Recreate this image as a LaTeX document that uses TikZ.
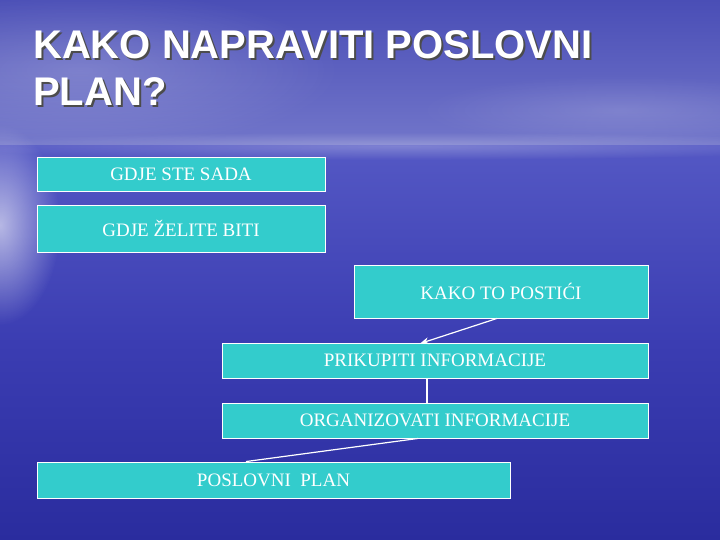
\documentclass[tikz,border=0pt]{standalone}
\usepackage{fontspec}
\setmainfont{Liberation Serif}
\newfontfamily\titlefont{Liberation Sans}
\usetikzlibrary{fadings,arrows.meta}
\definecolor{boxfill}{HTML}{33CCCC}
\definecolor{skytop}{HTML}{4A4EB6}
\definecolor{skyhor}{HTML}{7276CA}
\definecolor{seatop}{HTML}{5458C4}
\definecolor{seamid}{HTML}{3B3DB2}
\definecolor{seabot}{HTML}{2A2C9E}
\tikzfading[name=glow, inner color=transparent!0, outer color=transparent!100]
\tikzset{
  stepbox/.style={rectangle, draw=white, line width=0.9pt, fill=boxfill, text=white,
    font=\fontsize{19}{23}\selectfont, inner sep=0pt},
  titletext/.style={anchor=base west, inner sep=0pt, font=\titlefont\bfseries\fontsize{40}{46}\selectfont},
  conn/.style={draw=white, line width=1.2pt}
}
\begin{document}
\begin{tikzpicture}[x=1pt,y=-1pt]
\useasboundingbox (0,0) rectangle (720,540);
% background sky
\shade[top color=skytop, bottom color=skyhor] (0,0) rectangle (720,146);
% sea
\shade[top color=seatop, bottom color=seabot, middle color=seamid] (0,146) rectangle (720,540);
% horizon glow
\fill[white, opacity=0.25, path fading=glow] (400,146) ellipse (460pt and 14pt);
% left glow
\fill[white, opacity=0.6, path fading=glow] (0,225) ellipse (60pt and 100pt);
\fill[white, opacity=0.2, path fading=glow] (80,70) ellipse (260pt and 80pt);
\fill[white, opacity=0.15, path fading=glow] (620,110) ellipse (200pt and 35pt);
% title
\node[titletext, text=black!70] (t1s) at (35,61) {KAKO NAPRAVITI POSLOVNI};
\node[titletext, text=black!70] (t2s) at (35,108) {PLAN?};
\node[titletext, text=white] (t1) at (33,59) {KAKO NAPRAVITI POSLOVNI};
\node[titletext, text=white] (t2) at (33,106) {PLAN?};
% boxes
\node[stepbox, minimum width=288pt, minimum height=34pt] (b1) at (181,174) {GDJE STE SADA};
\node[stepbox, minimum width=288pt, minimum height=47pt] (b2) at (181,228.5) {GDJE ŽELITE BITI};
\node[stepbox, minimum width=294pt, minimum height=53pt] (b3) at (501,291.5) {KAKO TO POSTIĆI};
\node[stepbox, minimum width=426pt, minimum height=35pt] (b4) at (435,360.5) {PRIKUPITI INFORMACIJE};
\node[stepbox, minimum width=426pt, minimum height=35pt] (b5) at (435,420.5) {ORGANIZOVATI INFORMACIJE};
\node[stepbox, minimum width=473pt, minimum height=36pt] (b6) at (273.5,480) {POSLOVNI\ \ PLAN};
% connectors
\draw[conn, -{Stealth[length=9pt,width=7pt]}] ([xshift=-4pt]b3.south) -- ([xshift=-15pt,yshift=-1pt]b4.north);
\draw[conn] ([xshift=-8pt]b4.south) -- ([xshift=-8pt]b5.north);
\draw[conn] ([xshift=-17pt]b5.south) -- ([xshift=-27.5pt]b6.north);
\end{tikzpicture}
\end{document}
